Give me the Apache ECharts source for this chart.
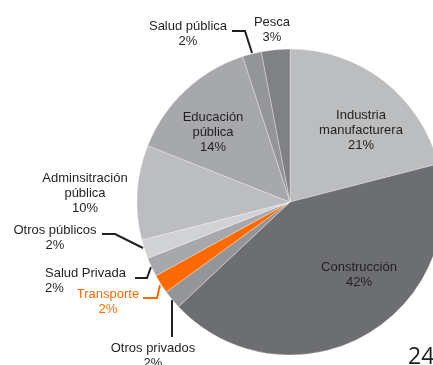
<!DOCTYPE html>
<html><head><meta charset="utf-8">
<script src="https://cdn.jsdelivr.net/npm/echarts@6/dist/echarts.min.js"></script>
<style>html,body{margin:0;padding:0;background:#fff}#c{width:433px;height:365px}</style>
</head><body><div id="c"></div>
<script>
const categories = ['Industria manufacturera','Construcción','Otros privados','Transporte','Salud Privada','Otros públicos','Adminsitración pública','Educación pública','Salud pública','Pesca'];
const labelNames = ['Industria\nmanufacturera','Construcción','Otros privados','Transporte','Salud Privada','Otros públicos','Adminsitración\npública','Educación\npública','Salud pública','Pesca'];
const values = [21,42,2,2,2,2,10,14,2,3];
const colors = ['#bcbdbf','#6d6e71','#939598','#ff6a00','#a6a8ab','#d1d2d4','#bcbdc0','#a7a8ab','#949598','#808184'];

// label layout (positions only)
const labelPos = [
  {x:361,y:130,align:'center'},
  {x:359,y:275,align:'center'},
  {x:153,y:356,align:'center',line:[[172,300],[172,318],[172,337]]},
  {x:108,y:302,align:'center',line:[[143,298],[157,298],[160,285]],lineColor:'#ff6a00'},
  {x:45,y:281,align:'left',line:[[135,278],[147,278],[151,267]]},
  {x:55,y:238,align:'center',line:[[102,234],[115,234],[143,248]]},
  {x:85,y:193,align:'center'},
  {x:213,y:132,align:'center'},
  {x:188,y:34,align:'center',line:[[232,31],[245,31],[252,53]]},
  {x:272,y:30,align:'center'}
];

const data = categories.map((n,i)=>{
  const p = labelPos[i];
  return {
    name: n,
    value: values[i],
    itemStyle:{color:colors[i]},
    label:{color: i===3 ? '#ff6a00' : '#231f20'},
    labelLine: p.line ? {show:true, lineStyle:{color:p.lineColor||'#231f20', width:2}} : {show:false}
  };
});

const chart = echarts.init(document.getElementById('c'), null, {renderer:'canvas'});
chart.setOption({
  animation:false,
  series:[{
    type:'pie',
    center:[290,202],
    radius:153,
    startAngle:90,
    clockwise:true,
    avoidLabelOverlap:false,
    itemStyle:{borderColor:'rgba(255,255,255,0.6)',borderWidth:0.5},
    label:{
      show:true,
      position:'outside',
      fontFamily:'Liberation Sans, Arial, sans-serif',
      fontSize:13,
      lineHeight:15,
      formatter:(p)=>labelNames[p.dataIndex]+'\n'+p.value+'%'
    },
    labelLine:{show:false},
    labelLayout:(params)=>{
      const p = labelPos[params.dataIndex];
      const r = {x:p.x,y:p.y,align:p.align,verticalAlign:'middle',hideOverlap:false,moveOverlap:false};
      if(p.line) r.labelLinePoints = p.line;
      return r;
    },
    data:data
  }],
  graphic:[{
    type:'text',left:408,top:346,
    style:{text:'24',fontSize:23,fontFamily:'Open Sans, sans-serif',fill:'#231f20'}
  }]
});
</script></body></html>
